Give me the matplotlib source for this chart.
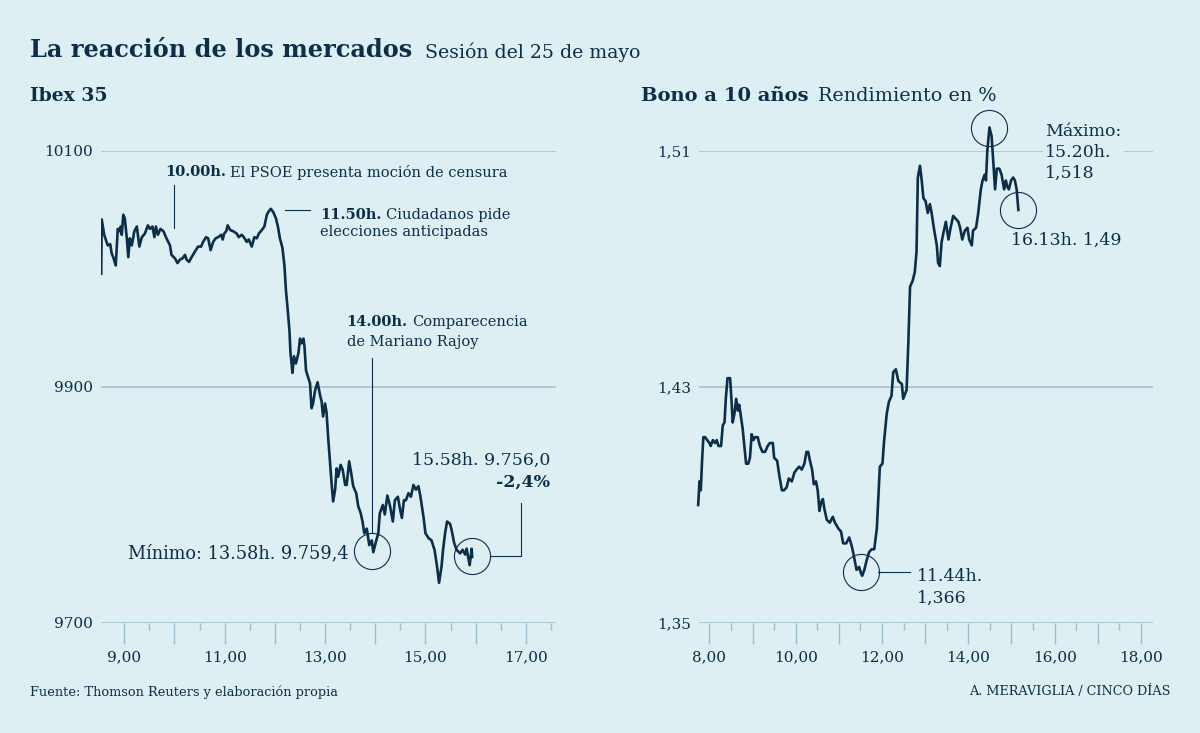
import matplotlib
matplotlib.use("Agg")
import matplotlib.pyplot as plt
from matplotlib.ticker import FixedLocator, FuncFormatter

# --- datos -------------------------------------------------------------
ibex_hora = [8.54, 8.55, 8.60, 8.67, 8.72, 8.75, 8.78, 8.83, 8.87, 8.90, 8.93, 8.95, 8.98,
             9.01, 9.05, 9.08, 9.11, 9.15, 9.20, 9.25, 9.30, 9.35, 9.41, 9.47, 9.51, 9.56,
             9.60, 9.63, 9.67, 9.72, 9.78, 9.84, 9.91, 9.94, 10.01, 10.06, 10.11, 10.16,
             10.21, 10.24, 10.29, 10.34, 10.41, 10.47, 10.53, 10.57, 10.63, 10.67, 10.72,
             10.77, 10.82, 10.87, 10.93, 10.96, 10.99, 11.03, 11.06, 11.11, 11.17, 11.24,
             11.28, 11.34, 11.38, 11.44, 11.48, 11.54, 11.59, 11.64, 11.68, 11.74, 11.79,
             11.84, 11.88, 11.92, 11.97, 12.02, 12.06, 12.10, 12.15, 12.19, 12.22, 12.25,
             12.29, 12.31, 12.33, 12.35, 12.38, 12.42, 12.47, 12.50, 12.53, 12.57, 12.59,
             12.62, 12.67, 12.70, 12.73, 12.76, 12.80, 12.85, 12.90, 12.93, 12.96, 13.00,
             13.03, 13.06, 13.10, 13.13, 13.16, 13.20, 13.23, 13.26, 13.31, 13.35, 13.40,
             13.43, 13.48, 13.52, 13.56, 13.62, 13.66, 13.71, 13.75, 13.78, 13.83, 13.88,
             13.93, 13.96, 14.02, 14.06, 14.09, 14.15, 14.19, 14.24, 14.29, 14.35, 14.39,
             14.45, 14.49, 14.53, 14.57, 14.61, 14.66, 14.71, 14.76, 14.81, 14.86, 14.90,
             14.96, 15.00, 15.06, 15.12, 15.18, 15.23, 15.27, 15.32, 15.35, 15.39, 15.43,
             15.49, 15.52, 15.57, 15.62, 15.69, 15.74, 15.79, 15.82, 15.85, 15.88, 15.92,
             15.93]
ibex_valor = [9996, 10042, 10029, 10020, 10021, 10013, 10010, 10003, 10034, 10032, 10036,
              10029, 10046, 10043, 10026, 10010, 10026, 10020, 10032, 10036, 10019, 10027,
              10030, 10037, 10034, 10036, 10027, 10036, 10029, 10034, 10032, 10026, 10020,
              10012, 10009, 10005, 10008, 10009, 10012, 10008, 10006, 10010, 10015, 10019,
              10019, 10023, 10027, 10026, 10016, 10023, 10026, 10027, 10029, 10025, 10030,
              10032, 10037, 10033, 10032, 10030, 10027, 10029, 10027, 10023, 10025, 10019,
              10027, 10026, 10030, 10033, 10036, 10046, 10049, 10051, 10048, 10043, 10036,
              10026, 10018, 10003, 9982, 9968, 9948, 9929, 9921, 9912, 9926, 9920, 9929,
              9941, 9937, 9941, 9934, 9914, 9907, 9903, 9882, 9886, 9897, 9904, 9893, 9888,
              9875, 9886, 9878, 9858, 9835, 9818, 9803, 9813, 9831, 9824, 9834, 9830, 9817,
              9817, 9837, 9827, 9816, 9810, 9799, 9793, 9785, 9776, 9780, 9766, 9770, 9760,
              9770, 9776, 9793, 9800, 9792, 9808, 9800, 9786, 9804, 9807, 9797, 9789, 9804,
              9804, 9810, 9807, 9817, 9813, 9816, 9807, 9790, 9776, 9772, 9770, 9762, 9748,
              9734, 9748, 9762, 9776, 9786, 9784, 9779, 9768, 9762, 9759, 9762, 9758, 9763,
              9756, 9749, 9763, 9756]

bono_hora = [7.74, 7.77, 7.80, 7.83, 7.86, 7.90, 7.95, 8.00, 8.03, 8.08, 8.13, 8.17, 8.21,
             8.27, 8.31, 8.35, 8.38, 8.42, 8.48, 8.51, 8.54, 8.58, 8.62, 8.66, 8.69, 8.73,
             8.77, 8.81, 8.85, 8.90, 8.94, 8.98, 9.02, 9.06, 9.12, 9.17, 9.23, 9.29, 9.35,
             9.40, 9.47, 9.50, 9.57, 9.62, 9.68, 9.73, 9.79, 9.84, 9.91, 9.97, 10.02, 10.08,
             10.14, 10.20, 10.25, 10.29, 10.33, 10.38, 10.42, 10.47, 10.51, 10.55, 10.59,
             10.63, 10.66, 10.72, 10.79, 10.86, 10.91, 10.99, 11.05, 11.10, 11.17, 11.24,
             11.30, 11.33, 11.37, 11.41, 11.47, 11.51, 11.54, 11.59, 11.64, 11.70, 11.76,
             11.82, 11.88, 11.91, 11.95, 12.01, 12.05, 12.11, 12.16, 12.22, 12.26, 12.32,
             12.38, 12.46, 12.49, 12.57, 12.61, 12.65, 12.71, 12.76, 12.80, 12.83, 12.88,
             12.92, 12.96, 13.01, 13.06, 13.11, 13.15, 13.20, 13.27, 13.30, 13.34, 13.38,
             13.42, 13.48, 13.54, 13.59, 13.65, 13.71, 13.77, 13.81, 13.86, 13.92, 13.98,
             14.02, 14.08, 14.11, 14.18, 14.23, 14.29, 14.33, 14.38, 14.41, 14.44, 14.49,
             14.54, 14.58, 14.62, 14.66, 14.72, 14.77, 14.83, 14.87, 14.90, 14.94, 14.99,
             15.04, 15.08, 15.12, 15.16]
bono_valor = [1.390, 1.398, 1.395, 1.405, 1.413, 1.413, 1.412, 1.411, 1.410, 1.412, 1.411,
              1.412, 1.410, 1.410, 1.417, 1.418, 1.426, 1.433, 1.433, 1.426, 1.418, 1.421,
              1.426, 1.422, 1.424, 1.420, 1.416, 1.410, 1.404, 1.404, 1.406, 1.414, 1.412,
              1.413, 1.413, 1.410, 1.408, 1.408, 1.410, 1.411, 1.411, 1.406, 1.405, 1.400,
              1.395, 1.395, 1.396, 1.399, 1.398, 1.401, 1.402, 1.403, 1.402, 1.404, 1.408,
              1.408, 1.405, 1.402, 1.397, 1.398, 1.395, 1.388, 1.391, 1.392, 1.389, 1.385,
              1.384, 1.386, 1.384, 1.382, 1.381, 1.377, 1.377, 1.379, 1.376, 1.374, 1.371,
              1.368, 1.369, 1.367, 1.366, 1.368, 1.371, 1.374, 1.375, 1.375, 1.382, 1.391,
              1.403, 1.404, 1.412, 1.421, 1.425, 1.427, 1.435, 1.436, 1.432, 1.431, 1.426,
              1.429, 1.445, 1.464, 1.466, 1.469, 1.476, 1.501, 1.505, 1.500, 1.494, 1.493,
              1.489, 1.492, 1.489, 1.484, 1.478, 1.472, 1.471, 1.479, 1.482, 1.486, 1.480,
              1.484, 1.488, 1.487, 1.486, 1.484, 1.480, 1.483, 1.484, 1.480, 1.478, 1.483,
              1.484, 1.489, 1.497, 1.500, 1.502, 1.500, 1.510, 1.518, 1.515, 1.506, 1.497,
              1.504, 1.504, 1.502, 1.497, 1.500, 1.498, 1.497, 1.500, 1.501, 1.500, 1.497,
              1.490]

ibex_yticks = [9700, 9900, 10100]
bono_yticks = [1.35, 1.43, 1.51]

# --- estilo ------------------------------------------------------------
FONDO = "#ddeff3"
AZUL = "#0c2e48"
GRIS = "#9dbfcc"
plt.rcParams["font.family"] = "DejaVu Serif"
plt.rcParams["text.color"] = AZUL

fig = plt.figure(figsize=(12, 7.33), dpi=100, facecolor=FONDO)
W, H = 1200, 733


def caja(x0, x1, ytop, ybot):
    # rectangulo del eje en pixeles -> fraccion de figura
    return [x0 / W, 1 - ybot / H, (x1 - x0) / W, (ybot - ytop) / H]


def preparar(ax, xlim, ylim, yticks, horas, etiquetas, fmt_y):
    ax.set_facecolor(FONDO)
    ax.set_xlim(*xlim)
    ax.set_ylim(*ylim)
    for s in ax.spines.values():
        s.set_visible(False)
    ax.set_yticks(yticks)
    ax.yaxis.set_major_formatter(FuncFormatter(fmt_y))
    ax.grid(axis="y", color=GRIS, lw=1.1)
    ax.set_axisbelow(True)
    ax.tick_params(axis="y", length=0, pad=6, labelsize=11, labelcolor=AZUL)
    ax.xaxis.set_major_locator(FixedLocator(horas))
    ax.xaxis.set_minor_locator(FixedLocator([h + 0.5 for h in horas if h + 0.5 < xlim[1]]))
    ax.xaxis.set_major_formatter(FuncFormatter(
        lambda v, p: f"{v:.2f}".replace(".", ",") if round(v) in etiquetas else ""))
    ax.tick_params(axis="x", which="major", length=15, width=1, color=GRIS, pad=5,
                   labelsize=11, labelcolor=AZUL)
    ax.tick_params(axis="x", which="minor", length=5, width=1, color=GRIS)


def doble(ax, x, y, negrita, resto, size=10.5, **kw):
    t = ax.text(x, y, negrita, fontweight="bold", fontsize=size, va="center", ha="left", **kw)
    ax.annotate(resto, xy=(1, 0.5), xycoords=t, xytext=(3, 0), textcoords="offset points",
                va="center", ha="left", fontsize=size, **kw)


def circulo(ax, x, y):
    ax.plot([x], [y], "o", ms=26, mfc="none", mec=AZUL, mew=0.8, clip_on=False, zorder=5)


# --- Ibex 35 -----------------------------------------------------------
ax1 = fig.add_axes(caja(101, 556, 151, 623))
preparar(ax1, (8.536, 17.60), (9700, 10100), ibex_yticks, list(range(9, 18)),
         [9, 11, 13, 15, 17], lambda v, p: f"{v:.0f}")
ax1.plot(ibex_hora, ibex_valor, color=AZUL, lw=1.9, solid_joinstyle="round", zorder=4)

ax1.plot([10.0, 10.0], [10071, 10035], color=AZUL, lw=0.8)
doble(ax1, 9.81, 10082, "10.00h.", "El PSOE presenta moción de censura")

ax1.plot([12.20, 12.70], [10050, 10050], color=AZUL, lw=0.8)
doble(ax1, 12.90, 10046, "11.50h.", "Ciudadanos pide")
ax1.text(12.90, 10031, "elecciones anticipadas", fontsize=10.5, va="center")

ax1.plot([13.94, 13.94], [9925, 9776], color=AZUL, lw=0.8)
doble(ax1, 13.43, 9955, "14.00h.", "Comparecencia")
ax1.text(13.43, 9938, "de Mariano Rajoy", fontsize=10.5, va="center")

circulo(ax1, 13.94, 9761)
ax1.text(13.47, 9759, "Mínimo: 13.58h. 9.759,4", fontsize=12.8, ha="right", va="center")

circulo(ax1, 15.93, 9757)
ax1.plot([16.28, 16.90, 16.90], [9757, 9757, 9802], color=AZUL, lw=0.8)
ax1.text(17.48, 9838, "15.58h. 9.756,0", fontsize=12.5, ha="right", va="center")
ax1.text(17.48, 9819, "-2,4%", fontsize=12.5, ha="right", va="center", fontweight="bold")

# --- Bono a 10 años ----------------------------------------------------
ax2 = fig.add_axes(caja(699, 1153, 151, 623))
preparar(ax2, (7.759, 18.28), (1.35, 1.51), bono_yticks, list(range(8, 19)),
         [8, 10, 12, 14, 16, 18], lambda v, p: f"{v:.2f}".replace(".", ","))
ax2.plot(bono_hora, bono_valor, color=AZUL, lw=1.9, solid_joinstyle="round", zorder=4,
         clip_on=False)

circulo(ax2, 14.48, 1.5178)
ax2.plot([14.87, 15.54], [1.5178, 1.5178], color=AZUL, lw=0.8)
ax2.text(15.78, 1.5095, "Máximo:\n15.20h.\n1,518", fontsize=12.5, ha="left", va="center",
         linespacing=1.3,
         bbox=dict(boxstyle="square,pad=0.15", fc=FONDO, ec="none"), zorder=6)

circulo(ax2, 15.16, 1.490)
ax2.text(14.98, 1.4798, "16.13h. 1,49", fontsize=12.5, ha="left", va="center")

circulo(ax2, 11.51, 1.3673)
ax2.plot([11.90, 12.65], [1.3673, 1.3673], color=AZUL, lw=0.8)
ax2.text(12.81, 1.3656, "11.44h.", fontsize=12.5, ha="left", va="center")
ax2.text(12.81, 1.3585, "1,366", fontsize=12.5, ha="left", va="center")

# --- textos generales --------------------------------------------------
fig.text(30 / W, 1 - 50 / H, "La reacción de los mercados", fontsize=17.3, fontweight="bold",
         va="center")
fig.text(425 / W, 1 - 52 / H, "Sesión del 25 de mayo", fontsize=13.6, va="center")
fig.text(30 / W, 1 - 96 / H, "Ibex 35", fontsize=13.5, fontweight="bold", va="center")
fig.text(641 / W, 1 - 96 / H, "Bono a 10 años", fontsize=14, fontweight="bold", va="center")
fig.text(818 / W, 1 - 96 / H, "Rendimiento en %", fontsize=13.8, va="center")
fig.text(30 / W, 1 - 692 / H, "Fuente: Thomson Reuters y elaboración propia", fontsize=9.3,
         va="center")
fig.text(1170 / W, 1 - 692 / H, "A. MERAVIGLIA / CINCO DÍAS", fontsize=9.2, va="center",
         ha="right")

fig.savefig("out.png", dpi=100, facecolor=FONDO)
